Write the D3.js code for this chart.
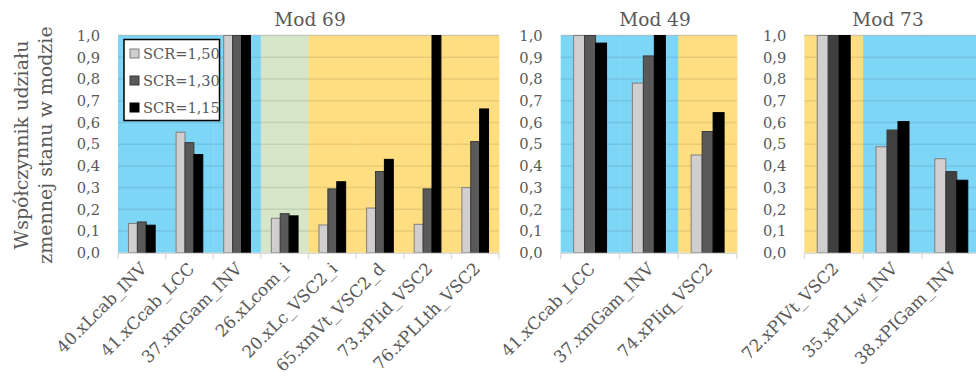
<!DOCTYPE html>
<html><head><meta charset="utf-8">
<script src="https://cdn.jsdelivr.net/npm/d3@7"></script>
<style>
body{margin:0;background:#fff}
svg{display:block}
text{font-family:"DejaVu Serif",serif;fill:#595959}
</style>
</head><body>
<svg id="c" width="976" height="378"></svg>
<script>
const seriesNames = ["SCR=1,50","SCR=1,30","SCR=1,15"];
const yTicks = [0,0.1,0.2,0.3,0.4,0.5,0.6,0.7,0.8,0.9,1.0];
const panelTitles = ["Mod 69","Mod 49","Mod 73"];

const mod69Categories = ["40.xLcab_INV","41.xCcab_LCC","37.xmGam_INV","26.xLcom_i","20.xLc_VSC2_i","65.xmVt_VSC2_d","73.xPIid_VSC2","76.xPLLth_VSC2"];
const mod69Scr150 = [0.135,0.555,1.0,0.159,0.128,0.206,0.131,0.300];
const mod69Scr130 = [0.142,0.507,1.0,0.180,0.294,0.374,0.294,0.512];
const mod69Scr115 = [0.127,0.452,1.0,0.170,0.327,0.430,1.0,0.662];
const mod69Zones = ["blue","blue","blue","green","yellow","yellow","yellow","yellow"];

const mod49Categories = ["41.xCcab_LCC","37.xmGam_INV","74.xPIiq_VSC2"];
const mod49Scr150 = [1.0,0.781,0.450];
const mod49Scr130 = [1.0,0.906,0.558];
const mod49Scr115 = [0.965,1.0,0.645];
const mod49Zones = ["blue","blue","yellow"];

const mod73Categories = ["72.xPIVt_VSC2","35.xPLLw_INV","38.xPIGam_INV"];
const mod73Scr150 = [1.0,0.488,0.433];
const mod73Scr130 = [1.0,0.565,0.374];
const mod73Scr115 = [1.0,0.604,0.334];
const mod73Zones = ["yellow","blue","blue"];

const zoneColor = d3.scaleOrdinal().domain(["blue","green","yellow"]).range(["#7ED6F7","#D6E6C8","#FEDE81"]);

const panels = [
  {title:panelTitles[0], cats:mod69Categories, vals:[mod69Scr150,mod69Scr130,mod69Scr115], zones:mod69Zones, x0:118, x1:499, tx:310, fills:["#D0CECE","#595959","#000000"]},
  {title:panelTitles[1], cats:mod49Categories, vals:[mod49Scr150,mod49Scr130,mod49Scr115], zones:mod49Zones, x0:560.7, x1:737, tx:655, fills:["#D0CECE","#595959","#000000"]},
  {title:panelTitles[2], cats:mod73Categories, vals:[mod73Scr150,mod73Scr130,mod73Scr115], zones:mod73Zones, x0:804.3, x1:980.7, tx:888, fills:["#D0CECE","#404040","#000000"]}
];
const strokes = ["#7F7F7F","#3A3A3A","#000000"];

const svg = d3.select("#c");
const y = d3.scaleLinear().domain([0,1]).range([252.8,35.5]);

panels.forEach(p => {
  const g = svg.append("g");
  const x = d3.scaleBand().domain(p.cats).range([p.x0,p.x1]).paddingInner(0).paddingOuter(0);
  const bw = x.bandwidth();
  const gw = bw*3/(3+2.35);
  const xs = d3.scaleBand().domain(seriesNames).range([(bw-gw)/2,(bw+gw)/2]).padding(0);

  g.append("line").attr("x1",p.x0).attr("x2",p.x1).attr("y1",y(1)).attr("y2",y(1))
    .attr("stroke","#D9D9D9").attr("stroke-width",1.5);

  g.selectAll("rect.bg").data(p.cats).join("rect").attr("class","bg")
    .attr("x",d=>x(d)).attr("width",bw+0.4)
    .attr("y",y(1)).attr("height",y(0)-y(1))
    .attr("fill",(d,i)=>zoneColor(p.zones[i]));

  g.selectAll("line.grid").data(yTicks.slice(1)).join("line").attr("class","grid")
    .attr("x1",p.x0).attr("x2",p.x1).attr("y1",d=>y(d)).attr("y2",d=>y(d))
    .attr("stroke","#000").attr("stroke-opacity",0.09).attr("stroke-width",1.5);

  seriesNames.forEach((s,si) => {
    g.selectAll("rect.s"+si).data(p.cats).join("rect").attr("class","s"+si)
      .attr("x",d=>x(d)+xs(s)).attr("width",xs.bandwidth())
      .attr("y",(d,i)=>y(p.vals[si][i])).attr("height",(d,i)=>y(0)-y(p.vals[si][i]))
      .attr("fill",p.fills[si]).attr("stroke",strokes[si]).attr("stroke-width",1);
  });

  g.append("line").attr("x1",p.x0).attr("x2",p.x1).attr("y1",y(0)+0.5).attr("y2",y(0)+0.5)
    .attr("stroke","#D9D9D9").attr("stroke-width",1.2);
  const bounds = p.cats.map(c=>x(c)).concat([p.x1]);
  g.selectAll("line.tk").data(bounds).join("line").attr("class","tk")
    .attr("x1",d=>d).attr("x2",d=>d).attr("y1",y(0)).attr("y2",y(0)+6.5)
    .attr("stroke","#D9D9D9").attr("stroke-width",1.2);

  g.selectAll("text.xl").data(p.cats).join("text").attr("class","xl")
    .attr("text-anchor","end")
    .attr("transform",d=>`translate(${x(d)+bw/2+6},${y(0)+17}) rotate(-45)`)
    .style("font-size","16.8px")
    .text(d=>d);

  g.selectAll("text.yl").data(yTicks).join("text").attr("class","yl")
    .attr("x",p.x0-18).attr("y",d=>y(d)).attr("dy","0.36em")
    .attr("text-anchor","end").style("font-size","14.7px")
    .text(d=>d3.format(".1f")(d).replace(".",","));

  g.append("text").attr("x",p.tx).attr("y",26).attr("text-anchor","middle")
    .style("font-size","18.5px").text(p.title);
});

const yt = svg.append("text").attr("transform","translate(0,145) rotate(-90)")
  .attr("text-anchor","middle").style("font-size","19px");
yt.append("tspan").attr("x",0).attr("y",28).text("Współczynnik udziału");
yt.append("tspan").attr("x",0).attr("y",52).text("zmennej stanu w modzie");

const lg = svg.append("g");
lg.append("rect").attr("x",124).attr("y",39.5).attr("width",95.5).attr("height",81)
  .attr("fill","#fff").attr("stroke","#000").attr("stroke-width",1.5);
const legY = d3.scalePoint().domain(seriesNames).range([53.5,107.5]);
seriesNames.forEach((s,si) => {
  lg.append("rect").attr("x",130).attr("y",legY(s)-4.5).attr("width",9).attr("height",9)
    .attr("fill",panels[0].fills[si]).attr("stroke",strokes[si]).attr("stroke-width",1);
  lg.append("text").attr("x",143).attr("y",legY(s)).attr("dy","0.36em")
    .style("font-size","14.6px").text(s);
});
</script>
</body></html>
